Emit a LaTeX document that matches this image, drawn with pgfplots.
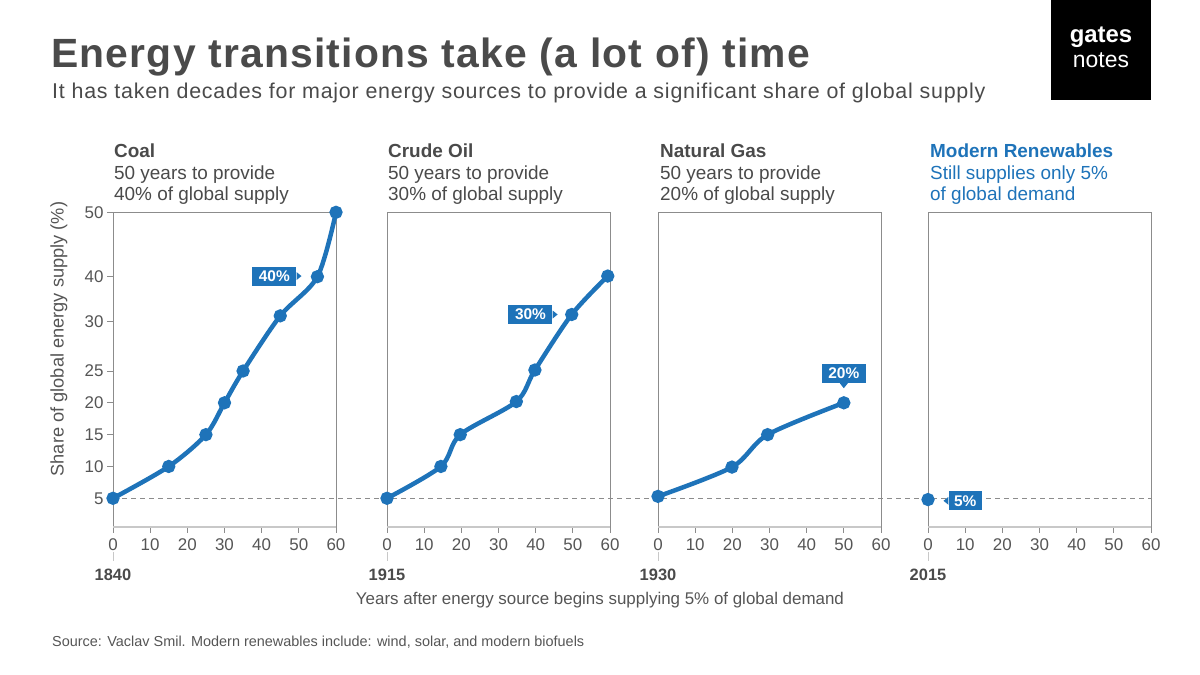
\documentclass[border=0pt]{standalone}
\usepackage{fontspec}
\setmainfont{Liberation Sans}
\usepackage{pgfplots}
\pgfplotsset{compat=1.18}

\definecolor{gnblue}{HTML}{1E73B9}
\definecolor{gtitle}{HTML}{4A4A4A}
\definecolor{gtext}{HTML}{555555}
\definecolor{gframe}{HTML}{8C8C8C}
\definecolor{glight}{HTML}{C8C8C8}

% the y axis of the original is not linear: map each value to its drawn height
\pgfplotsset{
  y coord trafo/.code={\pgfmathparse{(#1<25) ? (28.7+(#1-5)*6.365) : ((#1<30) ? (156+(#1-25)*9.86) : ((#1<40) ? (205.3+(#1-30)*4.5) : (250.3+(#1-40)*6.44)))}},
  panel/.style={
    scale only axis, width=223bp, height=315bp, anchor=south west,
    xmin=0, xmax=60, ymin=0.49, ymax=50.05,
    xtick={0,10,...,60}, xtick pos=bottom, ytick pos=left,
    tick align=outside, major tick length=6bp,
    tick style={gframe, line width=0.8bp},
    axis line style={gframe, line width=0.9bp},
    tick label style={text=gtext, font=\fontsize{17}{17}\selectfont},
    xticklabel style={yshift=-2bp},
    /pgf/number format/assume math mode=true,
    clip=false,
  },
  series/.style={gnblue, line width=4.5bp, smooth, tension=0.5,
    mark=*, mark size=4.3bp, mark options={draw=none, fill=gnblue}},
}
\tikzset{
  tag/.style={rectangle, fill=gnblue, text=white, inner sep=0pt,
    minimum width=44bp, minimum height=19bp,
    font=\bfseries\fontsize{15.5}{15.5}\selectfont},
  head/.style={anchor=base west, inner sep=0pt, align=left, text=gtitle,
    font=\fontsize{19}{21.5}\selectfont},
}

\newcommand{\bottomline}{\draw[glight, line width=1.2bp] (rel axis cs:0,0) -- (rel axis cs:1,0);}
\newcommand{\yearlabel}[1]{%
  \draw[glight, line width=0.8bp] (rel axis cs:0,0) ++(0bp,-25bp) -- ++(0bp,-9bp);
  \node[text=gtitle, font=\bfseries\fontsize{16.5}{16.5}\selectfont] at ([yshift=-48bp]rel axis cs:0,0) {#1};}

\begin{document}
\begin{tikzpicture}[x=1bp, y=1bp]
\useasboundingbox (0,0) rectangle (1200,675);

% header
\node[anchor=base west, inner sep=0pt, text=gtitle,
  font=\bfseries\fontsize{41}{41}\selectfont\addfontfeature{LetterSpace=3}]
  at (51,607.5) {Energy transitions take (a lot of) time};
\node[anchor=base west, inner sep=0pt, text=gtitle,
  font=\fontsize{21.5}{21.5}\selectfont\addfontfeature{LetterSpace=3.6}]
  at (52,576) {It has taken decades for major energy sources to provide a significant share of global supply};
\fill[black] (1051,575) rectangle (1151,675);
\node[anchor=base, inner sep=0pt, text=white, font=\bfseries\fontsize{24}{24}\selectfont] at (1101,632) {gates};
\node[anchor=base, inner sep=0pt, text=white, font=\fontsize{23}{23}\selectfont] at (1101,607) {notes};

% panel headings (anchored at the baseline of their last line)
\node[head] at (114,474.3) {\textbf{Coal}\\50 years to provide\\40\% of global supply};
\node[head] at (388,474.3) {\textbf{Crude Oil}\\50 years to provide\\30\% of global supply};
\node[head] at (660,474.3) {\textbf{Natural Gas}\\50 years to provide\\20\% of global supply};
\node[head, text=gnblue] at (930,474.3) {\textbf{Modern Renewables}\\Still supplies only 5\%\\of global demand};

% Coal
\begin{axis}[panel, at={(113bp,148bp)},
  ytick={5,10,15,20,25,30,40,50}, yticklabels={5,10,15,20,25,30,40,50}]
  \draw[gframe, line width=0.9bp, dash pattern=on 5bp off 4bp] (axis cs:0,5) -- ++(1038bp,0bp);
  \addplot[series] coordinates {(0,5) (15,10) (25,15) (30,20) (35,25) (45,31.3) (55,40) (60,50)};
  \node[tag] (t40) at (axis cs:43.4,40.1) {40\%};
  \fill[gnblue] ([yshift=4bp]t40.east) -- ([xshift=5bp]t40.east) -- ([yshift=-4bp]t40.east) -- cycle;
  \bottomline
  \yearlabel{1840}
\end{axis}
\node[rotate=90, text=gtext, font=\fontsize{18.3}{18.3}\selectfont] at (59,336) {Share of global energy supply (\%)};

% Crude oil
\begin{axis}[panel, at={(387bp,148bp)}, ytick=\empty]
  \addplot[series] coordinates {(0,5) (14.5,10) (19.7,15) (34.8,20.2) (39.8,25.1) (49.7,31.6) (59.4,40.1)};
  \node[tag] (t30) at (axis cs:38.6,31.6) {30\%};
  \fill[gnblue] ([yshift=4bp]t30.east) -- ([xshift=5bp]t30.east) -- ([yshift=-4bp]t30.east) -- cycle;
  \bottomline
  \yearlabel{1915}
\end{axis}

% Natural gas
\begin{axis}[panel, at={(658bp,148bp)}, ytick=\empty]
  \addplot[series] coordinates {(0,5.3) (19.9,9.9) (29.5,15) (50,20)};
  \node[tag] (t20) at (axis cs:50,24.6) {20\%};
  \fill[gnblue] ([xshift=-4bp]t20.south) -- ([yshift=-5bp]t20.south) -- ([xshift=4bp]t20.south) -- cycle;
  \bottomline
  \yearlabel{1930}
\end{axis}

% Modern renewables
\begin{axis}[panel, at={(928bp,148bp)}, ytick=\empty]
  \addplot[series, only marks] coordinates {(0,4.8)};
  \node[tag, minimum width=33bp] (t5) at (axis cs:10,4.6) {5\%};
  \fill[gnblue] ([yshift=4bp]t5.west) -- ([xshift=-5bp]t5.west) -- ([yshift=-4bp]t5.west) -- cycle;
  \bottomline
  \yearlabel{2015}
\end{axis}

% axis title and source
\node[text=gtext, font=\fontsize{17}{17}\selectfont] at (600,75) {Years after energy source begins supplying 5\% of global demand};
\node[anchor=west, inner sep=0pt, text=gtext, font=\fontsize{14.5}{14.5}\selectfont] at (52,33) {Source: Vaclav Smil. Modern renewables include: wind, solar, and modern biofuels};
\end{tikzpicture}
\end{document}
